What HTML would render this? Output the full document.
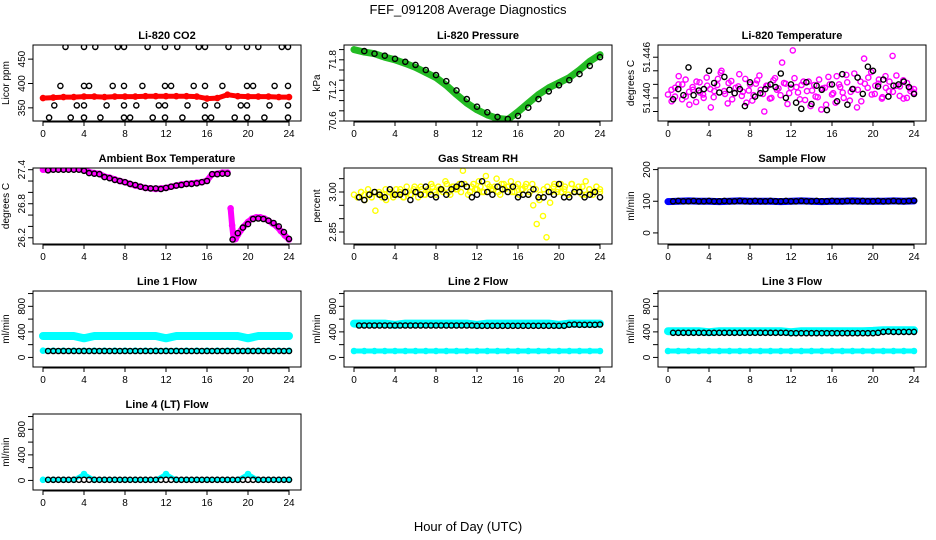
<!DOCTYPE html>
<html><head><meta charset="utf-8"><style>
body{margin:0;background:#fff}
svg{display:block;font-family:"Liberation Sans",sans-serif}
</style></head><body>
<svg id="chart" width="936" height="540" xmlns="http://www.w3.org/2000/svg">
<text x="468" y="14" text-anchor="middle" font-size="13">FEF_091208  Average Diagnostics</text>
<text x="468" y="531" text-anchor="middle" font-size="13">Hour of Day (UTC)</text>
</svg>
<script>
const xTicks=[0,4,8,12,16,20,24];
const co2RedVals=[370,371,372,372,373,373,372,373,373,373,374,374,374,374,374,373,369,370,377,374,373,373,373,372,372];
const co2BlackHours=[2.2,4,5.1,7.3,7.9,10.2,11.9,13.1,15.2,15.8,18.1,19.9,21,23.3,23.9,1.7,4,4.5,6.8,7.9,9.7,11.9,12.5,14.7,15.8,17.5,19.9,20.5,22.6,23.9,1.1,3.3,4,6.2,7.9,9.1,11.3,11.9,14.1,15.8,17,19.3,19.9,22.1,23.9,0.6,2.7,4,5.6,7.9,8.5,10.7,11.9,13.6,15.8,16.4,18.7,19.9,21.6,23.9];
const co2BlackVals=[475,475,475,475,475,475,475,475,475,475,475,475,475,475,475,395,395,395,395,395,395,395,395,395,395,395,395,395,395,395,355,355,355,355,355,355,355,355,355,355,355,355,355,355,355,330,330,330,330,330,330,330,330,330,330,330,330,330,330,330];
const presGreenVals=[72.0,71.95,71.92,71.85,71.8,71.73,71.65,71.55,71.45,71.3,71.12,70.95,70.82,70.72,70.65,70.63,70.78,70.95,71.12,71.25,71.35,71.45,71.6,71.77,71.9];
const presBlackVals=[71.97,71.92,71.88,71.82,71.76,71.7,71.6,71.5,71.38,71.2,71.03,70.88,70.77,70.68,70.64,70.7,70.86,71.03,71.18,71.3,71.4,71.52,71.68,71.85];
const tempMagVals=[51.4405,51.4395,51.4415,51.4432,51.4420,51.4402,51.4390,51.4412,51.4424,51.4408,51.4400,51.4418,51.4386,51.4410,51.4428,51.4440,51.4406,51.4422,51.4398,51.4415,51.4435,51.4409,51.4393,51.4420,51.4404,51.4426,51.4412,51.4380,51.4418,51.4400,51.4429,51.4414,51.4452,51.4421,51.4407,51.4470,51.4416,51.4398,51.4424,51.4410,51.4388,51.4419,51.4401,51.4383,51.4415,51.4431,51.4405,51.4393,51.4420,51.4408,51.4434,51.4396,51.4413,51.4386,51.4424,51.4458,51.4415,51.4438,51.4406,51.4421,51.4399,51.4432,51.4410,51.4462,51.4418,51.4403,51.4426,51.4400,51.4414,51.4408];
const tempMag2Vals=[51.4412,51.4402,51.4420,51.4398,51.4427,51.4409,51.4416,51.4394,51.4423,51.4405,51.4430,51.4413,51.4401,51.4419,51.4437,51.4410,51.4392,51.4425,51.4407,51.4417,51.4403,51.4428,51.4411,51.4396,51.4421,51.4433,51.4406,51.4418,51.4399,51.4426,51.4412,51.4404,51.4422,51.4391,51.4415,51.4429,51.4408,51.4419,51.4397,51.4424,51.4411,51.4402,51.4427,51.4414,51.4390,51.4420,51.4407,51.4432,51.4416,51.4400,51.4423,51.4409,51.4436,51.4412,51.4395,51.4421,51.4430,51.4405,51.4418,51.4427,51.4401,51.4415,51.4424,51.4409,51.4433,51.4417,51.4399,51.4422,51.4410,51.4413];
const tempBlackVals=[51.4398,51.4413,51.4404,51.4445,51.4404,51.4411,51.4413,51.4440,51.4422,51.4408,51.4431,51.4412,51.4407,51.4413,51.4388,51.4423,51.4402,51.4407,51.4413,51.4420,51.4416,51.4436,51.4400,51.4420,51.4393,51.4384,51.4423,51.4391,51.4418,51.4412,51.4382,51.4420,51.4395,51.4435,51.4390,51.4413,51.4430,51.4406,51.4446,51.4440,51.4417,51.4427,51.4402,51.4418,51.4420,51.4424,51.4416,51.4406];
const ambHours=[0,0.5,1,1.5,2,2.5,3,3.5,4,4.5,5,5.5,6,6.5,7,7.5,8,8.5,9,9.5,10,10.5,11,11.5,12,12.5,13,13.5,14,14.5,15,15.5,16,16.5,17,17.5,18,18.3,18.45,18.6,18.8,19,19.3,19.6,20,20.4,20.8,21.2,21.6,22,22.4,22.8,23.2,23.6,24];
const ambMagVals=[27.40,27.40,27.41,27.41,27.42,27.42,27.42,27.41,27.40,27.36,27.34,27.33,27.28,27.26,27.23,27.20,27.18,27.15,27.12,27.10,27.08,27.07,27.06,27.07,27.08,27.10,27.12,27.14,27.15,27.16,27.17,27.18,27.21,27.32,27.33,27.35,27.35,26.72,26.42,26.17,26.18,26.25,26.33,26.40,26.48,26.54,26.56,26.56,26.54,26.50,26.45,26.40,26.32,26.24,26.17];
const ambBlackVals=[27.39,27.40,27.40,27.40,27.40,27.40,27.40,27.38,27.34,27.33,27.32,27.27,27.25,27.22,27.20,27.18,27.15,27.13,27.10,27.08,27.07,27.07,27.06,27.08,27.10,27.12,27.13,27.15,27.15,27.16,27.18,27.20,27.32,27.32,27.33,27.33,26.17,26.28,26.38,26.44,26.53,26.54,26.53,26.50,26.46,26.40,26.30,26.18];
const rhYellowVals=[2.99,2.98,3.00,2.97,2.99,2.98,2.93,3.00,2.99,2.97,3.00,2.98,2.99,3.01,2.98,3.00,2.99,3.02,2.98,3.01,2.99,3.00,3.02,2.99,3.01,3.00,3.03,2.99,3.02,3.01,3.00,3.03,2.99,3.02,3.01,3.04,3.00,3.06,3.02,3.01,3.05,2.99,3.03,3.02,3.04,3.00,3.03,3.01,3.02,2.99,3.03,3.01,2.97,2.91,2.83,2.96,3.02,3.00,3.03,3.01,2.99,3.03,3.00,3.02,2.99,3.04,3.01,2.99,3.02,3.00];
const rhYellow2Vals=[2.98,3.00,2.99,3.01,2.98,3.00,2.99,2.98,3.01,3.00,2.99,3.01,3.00,2.98,3.02,2.99,3.01,3.00,3.02,2.99,3.01,3.03,3.00,3.02,3.01,3.04,3.00,3.02,3.01,3.03,3.08,3.02,3.00,3.03,3.01,3.02,3.00,3.03,3.01,3.02,3.00,3.03,3.01,3.02,3.00,3.02,2.99,3.01,3.03,3.00,2.95,2.88,2.99,3.01,3.02,3.00,3.03,3.01,3.00,3.02,2.99,3.03,3.01,3.00,3.02,2.99,3.01,3.00,3.02,3.01];
const rhBlackVals=[2.98,2.97,2.99,3.00,2.99,2.98,3.01,2.99,2.99,3.00,2.97,3.00,2.99,3.02,2.99,2.98,3.01,2.99,3.01,3.02,3.03,3.02,2.98,2.99,3.04,3.00,2.99,3.02,3.01,3.00,3.02,2.98,2.99,2.99,3.01,2.98,2.98,3.00,2.99,3.03,2.98,2.98,3.00,3.00,2.98,2.99,3.00,2.98];
const sampleBlueVals=[99,100,101,100,100,99,100,101,100,100,100,99,100,101,100,99,100,100,101,100,100,100,101,100,101];
const sampleBlackVals=[100,101,100,100,101,100,100,101,100,100,101,100,100,101,100,100,101,100,100,101,100,100,101,100,100,101,100,100,101,100,100,101,100,100,101,100,100,101,100,100,101,100,100,101,100,100,101,102];
const line1CyanHiVals=[335,335,335,335,300,335,335,335,335,335,335,335,300,335,335,335,335,335,335,335,300,335,335,335,335];
const line1CyanLoVals=[105,105,105,105,105,105,105,105,105,105,105,105,105,105,105,105,105,105,105,105,105,105,105,105,105];
const line1BlackVals=[100,100,100,100,100,100,100,100,100,100,100,100,100,100,100,100,100,100,100,100,100,100,100,100,100,100,100,100,100,100,100,100,100,100,100,100,100,100,100,100,100,100,100,100,100,100,100,100];
const line2CyanHiVals=[530,530,530,530,510,530,530,530,530,530,530,530,510,530,530,530,530,530,530,530,510,530,530,530,530];
const line2CyanLoVals=[100,100,100,100,100,100,100,100,100,100,100,100,100,100,100,100,100,100,100,100,100,100,100,100,100];
const line2BlackVals=[500,500,500,500,500,500,500,500,500,500,500,500,500,500,500,500,500,500,500,500,500,500,500,495,495,495,495,495,495,495,495,495,495,495,495,495,495,495,495,495,495,510,515,510,510,510,510,515];
const line3CyanHiVals=[410,410,410,410,395,410,410,410,410,410,410,410,395,410,410,410,410,410,410,410,415,425,425,425,425];
const line3CyanLoVals=[100,100,100,100,100,100,100,100,100,100,100,100,100,100,100,100,100,100,100,100,100,100,100,100,100];
const line3BlackVals=[385,385,385,385,385,385,385,385,385,385,385,385,385,385,385,385,385,385,385,385,385,385,385,380,380,380,380,380,380,380,380,380,380,380,380,380,380,380,380,380,385,400,405,400,400,400,400,400];
const line4CyanVals=[10,10,10,10,100,10,10,10,10,10,10,10,100,10,10,10,10,10,10,10,100,10,10,10,10];
const line4BlackVals=[10,10,10,10,10,10,10,10,10,10,10,10,10,10,10,10,10,10,10,10,10,10,10,10,10,10,10,10,10,10,10,10,10,10,10,10,10,10,10,10,10,10,10,10,10,10,10,10];

const NS="http://www.w3.org/2000/svg";
const svg=document.getElementById('chart');
const colX=[33,344,658], rowY=[45,168,291,414], BW=268, BH=76;
function mk(tag,attrs,parent){const e=document.createElementNS(NS,tag);for(const k in attrs)e.setAttribute(k,attrs[k]);parent.appendChild(e);return e;}
function hoursFor(n,start){const h=[];for(let i=0;i<n;i++)h.push(start?(i+1)*24/n:i*24/(n-1));return h;}

const panels=[
 {name:'li820-co2',title:'Li-820 CO2',ylab:'Licor ppm',c:0,r:0,ymin:323,ymax:479,ticks:[350,400,450],labels:['350','400','450'],
  series:[{kind:'band',color:'#ff0000',w:5,hrs:null,vals:co2RedVals},{kind:'pts',color:'#000',hrs:co2BlackHours,vals:co2BlackVals}]},
 {name:'li820-pressure',title:'Li-820 Pressure',ylab:'kPa',c:1,r:0,ymin:70.6,ymax:72.09,ticks:[70.6,70.8,71.0,71.2,71.4,71.6,71.8,72.0],labels:['70.6','','','71.2','','','71.8',''],
  series:[{kind:'band',color:'#22bb22',w:7,hrs:null,vals:presGreenVals},{kind:'pts',color:'#000',hrs:'half',vals:presBlackVals}]},
 {name:'li820-temperature',title:'Li-820 Temperature',ylab:'degrees C',c:2,r:0,ymin:51.4366,ymax:51.4478,ticks:[51.438,51.440,51.442,51.444,51.446],labels:['','51.440','','','51.446'],
  series:[{kind:'pts',color:'#ff00ff',hrs:null,vals:tempMagVals},{kind:'pts',color:'#ff00ff',hrs:'half',vals:tempMag2Vals},{kind:'pts',color:'#000',hrs:'half',vals:tempBlackVals}]},
 {name:'ambient-box-temperature',title:'Ambient Box Temperature',ylab:'degrees C',c:0,r:1,ymin:26.09,ymax:27.43,ticks:[26.2,26.4,26.6,26.8,27.0,27.2,27.4],labels:['26.2','','','26.8','','','27.4'],
  series:[{kind:'band',color:'#ff00ff',w:6,hrs:ambHours,vals:ambMagVals,gapAfter:36},{kind:'pts',color:'#000',hrs:'half',vals:ambBlackVals}]},
 {name:'gas-stream-rh',title:'Gas Stream RH',ylab:'percent',c:1,r:1,ymin:2.805,ymax:3.09,ticks:[2.85,2.90,2.95,3.00,3.05],labels:['2.85','','','3.00',''],
  series:[{kind:'pts',color:'#ffff00',hrs:null,vals:rhYellowVals},{kind:'pts',color:'#ffff00',hrs:'half',vals:rhYellow2Vals},{kind:'pts',color:'#000',hrs:'half',vals:rhBlackVals}]},
 {name:'sample-flow',title:'Sample Flow',ylab:'ml/min',c:2,r:1,ymin:-35,ymax:205,ticks:[0,100,200],labels:['0','100','200'],
  series:[{kind:'band',color:'#0000ff',w:7,hrs:null,vals:sampleBlueVals},{kind:'pts',color:'#000',hrs:'half',vals:sampleBlackVals}]},
 {name:'line1-flow',title:'Line 1 Flow',ylab:'ml/min',c:0,r:2,ymin:-150,ymax:1040,ticks:[0,200,400,600,800,1000],labels:['0','','400','','800',''],
  series:[{kind:'band',color:'#00ffff',w:8,hrs:null,vals:line1CyanHiVals},{kind:'band',color:'#00ffff',w:5,hrs:null,vals:line1CyanLoVals},{kind:'pts',color:'#000',hrs:'half',vals:line1BlackVals}]},
 {name:'line2-flow',title:'Line 2 Flow',ylab:'ml/min',c:1,r:2,ymin:-150,ymax:1040,ticks:[0,200,400,600,800,1000],labels:['0','','400','','800',''],
  series:[{kind:'band',color:'#00ffff',w:8,hrs:null,vals:line2CyanHiVals},{kind:'band',color:'#00ffff',w:5,hrs:null,vals:line2CyanLoVals},{kind:'pts',color:'#000',hrs:'half',vals:line2BlackVals}]},
 {name:'line3-flow',title:'Line 3 Flow',ylab:'ml/min',c:2,r:2,ymin:-150,ymax:1040,ticks:[0,200,400,600,800,1000],labels:['0','','400','','800',''],
  series:[{kind:'band',color:'#00ffff',w:8,hrs:null,vals:line3CyanHiVals},{kind:'band',color:'#00ffff',w:5,hrs:null,vals:line3CyanLoVals},{kind:'pts',color:'#000',hrs:'half',vals:line3BlackVals}]},
 {name:'line4-lt-flow',title:'Line 4 (LT) Flow',ylab:'ml/min',c:0,r:3,ymin:-150,ymax:1040,ticks:[0,200,400,600,800,1000],labels:['0','','400','','800',''],
  series:[{kind:'band',color:'#00ffff',w:4,hrs:null,vals:line4CyanVals},{kind:'pts',color:'#000',hrs:'half',vals:line4BlackVals}]}
];

panels.forEach(p=>{
  const x0=colX[p.c], y0=rowY[p.r];
  const xs=h=>x0+10+h*10.25;
  const ys=v=>y0+BH-(v-p.ymin)/(p.ymax-p.ymin)*BH;
  const g=mk('g',{},svg);
  
  
  const t=mk('text',{x:x0+BW/2,y:y0-6,'text-anchor':'middle','font-size':'11','font-weight':'bold'},g);
  t.textContent=p.title;
  
  
  const yl=mk('text',{transform:`translate(${x0-24},${y0+BH/2}) rotate(-90)`,'text-anchor':'middle','font-size':'10'},g);
  yl.textContent=p.ylab;
  
  
  const clipId='clip-'+p.name;
  const cp=mk('clipPath',{id:clipId},g);
  mk('rect',{x:x0,y:y0,width:BW,height:BH},cp);
  const plot=mk('g',{'clip-path':`url(#${clipId})`},g);
  
  
  p.series.forEach((s,si)=>{
    const hrs=s.hrs==='half'?hoursFor(s.vals.length,true):(s.hrs||hoursFor(s.vals.length,false));
    if(s.kind==='band'){
      let d='';
      s.vals.forEach((v,i)=>{d+=(i===0||(s.gapAfter!==undefined&&i===s.gapAfter+1)?'M':'L')+xs(hrs[i]).toFixed(1)+','+ys(v).toFixed(1);});
      const pl=mk('path',{d:d,fill:'none',stroke:s.color,'stroke-width':s.w,'stroke-linejoin':'round','stroke-linecap':'round'},plot);
      
      
    }
    s.vals.forEach((v,i)=>{
      const c=mk('circle',{cx:xs(hrs[i]).toFixed(1),cy:ys(v).toFixed(1),r:2.6,fill:'none',stroke:s.color,'stroke-width':1.4},plot);
      
      
    });
  });
  const box=mk('rect',{x:x0,y:y0,width:BW,height:BH,fill:'none',stroke:'#000','stroke-width':1},g);
  
  
  const xa=mk('g',{},g);
  
  
  mk('line',{x1:xs(0),x2:xs(24),y1:y0+BH+1,y2:y0+BH+1,stroke:'#000'},xa);
  xTicks.forEach(h=>{
    mk('line',{x1:xs(h),x2:xs(h),y1:y0+BH,y2:y0+BH+5,stroke:'#000'},xa);
    const tl=mk('text',{x:xs(h),y:y0+BH+16,'text-anchor':'middle','font-size':'10'},xa);
    tl.textContent=h;
  });
  const ya=mk('g',{},g);
  
  
  p.ticks.forEach((v,i)=>{
    mk('line',{x1:x0-5,x2:x0,y1:ys(v),y2:ys(v),stroke:'#000'},ya);
    if(p.labels[i]){
      const tl=mk('text',{transform:`translate(${x0-8},${ys(v)}) rotate(-90)`,'text-anchor':'middle','font-size':'10'},ya);
      tl.textContent=p.labels[i];
    }
  });
});
</script>
</body></html>
